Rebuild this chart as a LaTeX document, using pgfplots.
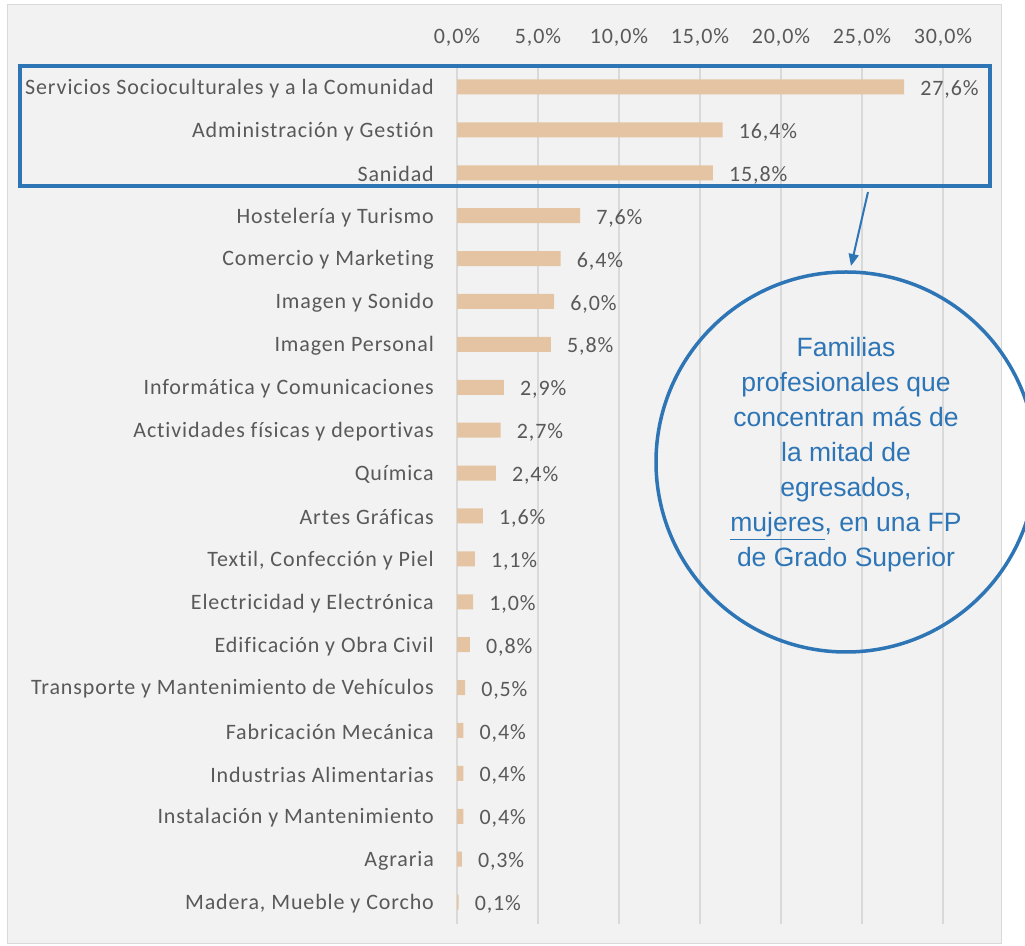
\documentclass[border=0pt]{standalone}
\usepackage{fontspec}
\setmainfont{Carlito}
\newfontfamily\calibri[LetterSpace=4, Ligatures={NoCommon}]{Carlito}
\newfontfamily\arialfont{Liberation Sans}
\usepackage{pgfplots}
\usepackage{pgfplotstable}
\pgfplotsset{compat=1.18}
\usetikzlibrary{arrows.meta}

\definecolor{barfill}{HTML}{E5C4A3}
\definecolor{txt}{HTML}{595959}
\definecolor{gridc}{HTML}{D9D9D9}
\definecolor{panel}{HTML}{F2F2F2}
\definecolor{hl}{HTML}{2E75B6}

% share of graduates (women, FP Grado Superior), in %
\pgfplotstableread{
idx val
0  27.6
1  16.4
2  15.8
3  7.6
4  6.4
5  6.0
6  5.8
7  2.9
8  2.7
9  2.4
10 1.6
11 1.1
12 1.0
13 0.8
14 0.5
15 0.4
16 0.4
17 0.4
18 0.3
19 0.1
}\datatable

\begin{document}
\begin{tikzpicture}[x=1pt,y=1pt]
\path[use as bounding box] (0,0) rectangle (1025,945);
\fill[white] (0,0) rectangle (1025,945);
\filldraw[fill=panel, draw=gridc, line width=1pt] (7,940) rectangle (1001,2);

\begin{axis}[
    at={(457pt,21.5pt)}, anchor=south west,
    scale only axis,
    width=486pt, height=858pt,
    xbar, bar width=15pt, bar shift=0pt,
    xmin=0, xmax=30,
    ymin=-0.5, ymax=19.5,
    y dir=reverse,
    axis line style={draw=none},
    major tick length=0pt,
    xtick={0,5,...,30},
    xticklabel pos=upper,
    xticklabel={\pgfmathprintnumber[fixed,fixed zerofill,precision=1,use comma]{\tick}\%},
    xticklabel style={anchor=center, yshift=28.5pt},
    ytick={0,...,19},
    yticklabels={
        {Servicios Socioculturales y a la Comunidad},
        {Administración y Gestión},
        {Sanidad},
        {Hostelería y Turismo},
        {Comercio y Marketing},
        {Imagen y Sonido},
        {Imagen Personal},
        {Informática y Comunicaciones},
        {Actividades físicas y deportivas},
        {Química},
        {Artes Gráficas},
        {Textil, Confección y Piel},
        {Electricidad y Electrónica},
        {Edificación y Obra Civil},
        {Transporte y Mantenimiento de Vehículos},
        {Fabricación Mecánica},
        {Industrias Alimentarias},
        {Instalación y Mantenimiento},
        {Agraria},
        {Madera, Mueble y Corcho}
    },
    yticklabel style={anchor=east, inner sep=0pt, xshift=-23pt, yshift=-1.5pt},
    tick label style={font=\calibri\fontsize{22}{26}\selectfont, text=txt},
    xmajorgrids, ymajorgrids=false,
    major grid style={gridc, line width=1.3pt},
    /pgf/number format/assume math mode=true,
    nodes near coords={\pgfmathprintnumber[fixed,fixed zerofill,precision=1,use comma]{\pgfplotspointmeta}\%},
    nodes near coords style={font=\calibri\fontsize{22}{26}\selectfont, text=txt, anchor=west, inner sep=0pt, xshift=16pt, yshift=-2.5pt},
]
\addplot[fill=barfill, draw=none] table[x=val, y=idx] {\datatable};
\end{axis}

% highlight of the three leading families
\draw[hl, line width=4pt] (20,879) rectangle (990,759);
\draw[hl, line width=2pt, -{Triangle[length=12pt, width=10pt]}] (868,753) -- (851,679);

\begin{scope}
\clip (0,0) rectangle (1025,945);
\draw[hl, line width=3.5pt] (846,483) circle (190);
\end{scope}
\node[align=center, text=hl, font=\arialfont\fontsize{26.5}{35}\selectfont] at (846,490)
    {Familias\\profesionales que\\concentran más de\\la mitad de\\egresados,\\\underline{mujeres}, en una FP\\de Grado Superior};
\end{tikzpicture}
\end{document}
